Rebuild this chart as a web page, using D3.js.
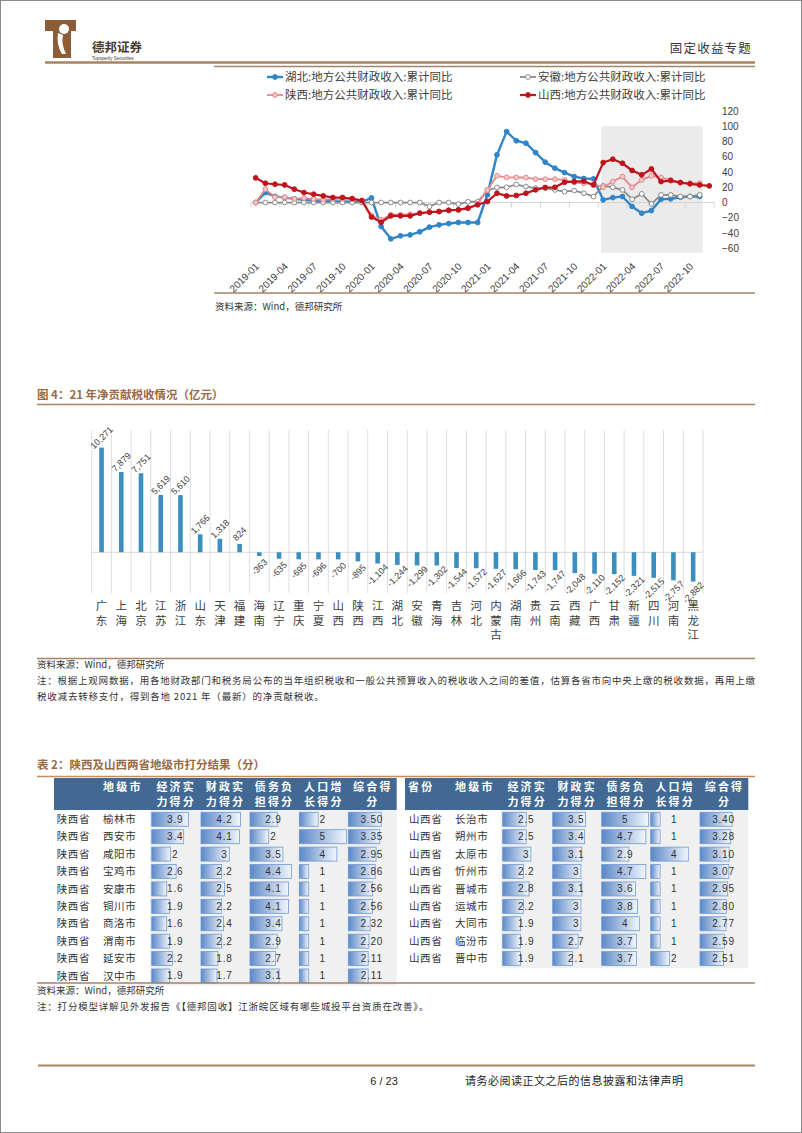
<!DOCTYPE html>
<html><head><meta charset="utf-8">
<script src="https://cdn.jsdelivr.net/npm/d3@7"></script>
<style>body{margin:0;background:#fff;} svg{display:block;}</style>
</head><body>
<svg id="page" width="802" height="1133"></svg>
<script>
// ---------------- DATA ----------------
const months = ["2019-01","2019-02","2019-03","2019-04","2019-05","2019-06","2019-07","2019-08","2019-09","2019-10","2019-11","2019-12",
"2020-01","2020-02","2020-03","2020-04","2020-05","2020-06","2020-07","2020-08","2020-09","2020-10","2020-11","2020-12",
"2021-01","2021-02","2021-03","2021-04","2021-05","2021-06","2021-07","2021-08","2021-09","2021-10","2021-11","2021-12",
"2022-01","2022-02","2022-03","2022-04","2022-05","2022-06","2022-07","2022-08","2022-09","2022-10","2022-11","2022-12"];
const monthTickLabels = ["2019-01","2019-04","2019-07","2019-10","2020-01","2020-04","2020-07","2020-10","2021-01","2021-04","2021-07","2021-10","2022-01","2022-04","2022-07","2022-10"];
const yTicksTop = [120,100,80,60,40,20,0,-20,-40,-60];
const hubei = [0,13,8,6.5,5,3.5,2.5,2,1.5,1.5,1,1,6,-31.5,-47.6,-43.7,-42.4,-38.4,-32.3,-29.3,-27.5,-26.2,-26.2,-26.2,
  10,62.5,93,81,77.8,65.5,52.9,45,39.3,34,31.5,31,3.5,6.5,7.9,-5.2,-14,-10.5,4.4,4.8,7,7.9,8,null];
const anhui = [0,0,0,0,0,0,0,0,0,0,0,0,0,0,0,0,0,0,-5,0,0,-2,1,1,
  15.7,19.7,20,23.6,21,18.8,18.8,16.6,14.4,15.7,12.2,7.9,21.8,20,16.6,4.4,11.4,-1.7,10,10,7.9,7.9,10,null];
const shaanxi = [0,17.5,7,7,4.8,5.7,4.8,3.5,4.8,4.8,4.4,2.6,-17,-22.7,-16,-16,-15.3,-14,-12.7,-11.8,-10.5,-9.6,-7,-1.7,
  16.6,35,33,32.8,32.8,30.6,30.6,30.6,29.7,26.2,25.3,24,20,27.5,34,20,29.7,35,32.8,29.7,26.2,25.3,25.3,null];
const shanxi = [32.3,25.3,24,23,17.5,13.1,10.9,8.7,6.6,6.6,5.2,2.6,-19,-25.8,-17.5,-17.5,-17.5,-14,-12.7,-11.8,-10,-9.6,-7.4,-3,
  1.3,12.2,8.7,9.2,12.2,16.6,19.7,20,26.6,27.5,28,23,52.4,56.8,51.5,42,36.3,44,27.5,28.8,26.2,24.5,23,21.8];
const seriesNames = ["湖北:地方公共财政收入:累计同比","安徽:地方公共财政收入:累计同比","陕西:地方公共财政收入:累计同比","山西:地方公共财政收入:累计同比"];
const shadeMonths = ["2022-01","2022-11"];
const shadeRange = [-66,100];

const provinces = ["广东","上海","北京","江苏","浙江","山东","天津","福建","海南","辽宁","重庆","宁夏","山西","陕西","江西","湖北","安徽","青海","吉林","河北","内蒙古","湖南","贵州","云南","西藏","广西","甘肃","新疆","四川","河南","黑龙江"];
const netTax = [10271,7879,7751,5619,5610,1766,1318,824,-363,-635,-695,-696,-700,-895,-1104,-1244,-1299,-1302,-1544,-1572,-1627,-1666,-1743,-1747,-2048,-2110,-2152,-2321,-2515,-2757,-2882];

const tableHeaders = [["经济实","力得分"],["财政实","力得分"],["债务负","担得分"],["人口增","长得分"],["综合得","分"]];
const shaanxiCities = ["榆林市","西安市","咸阳市","宝鸡市","安康市","铜川市","商洛市","渭南市","延安市","汉中市"];
const shaanxiEcon = [3.9,3.4,2,2.6,1.6,1.9,1.6,1.9,2.2,1.9];
const shaanxiFisc = [4.2,4.1,3,2.2,2.5,2.2,2.4,2.2,1.8,1.7];
const shaanxiDebt = [2.9,2,3.5,4.4,4.1,4.1,3.4,2.9,2.7,3.1];
const shaanxiPop  = [2,5,4,1,1,1,1,1,1,1];
const shaanxiTotal= [3.50,3.35,2.95,2.86,2.56,2.56,2.32,2.20,2.11,2.11];
const shanxiCities = ["长治市","朔州市","太原市","忻州市","晋城市","运城市","大同市","临汾市","晋中市"];
const shanxiEcon = [2.5,2.5,3,2.2,2.8,2.2,1.9,1.9,1.9];
const shanxiFisc = [3.5,3.4,3.1,3,3.1,3,3,2.7,2.1];
const shanxiDebt = [5,4.7,2.9,4.7,3.6,3.8,4,3.7,3.7];
const shanxiPop  = [1,1,4,1,1,1,1,1,2];
const shanxiTotal= [3.40,3.28,3.10,3.07,2.95,2.80,2.77,2.59,2.51];

// ---------------- SETUP ----------------
const svg = d3.select("#page");
const CJK = "'Noto Sans CJK SC','Noto Sans',sans-serif";
const LAT = "'Liberation Sans',Arial,sans-serif";
const BROWN = "#a98360";
const TITLE = "#9a6a44";
const fmtInt = d3.formatLocale({decimal:".",thousands:",",grouping:[3],currency:["",""],minus:"-"}).format(",");

svg.append("rect").attr("x",0.5).attr("y",0.5).attr("width",801).attr("height",1132).attr("fill","#fff").attr("stroke","#8a8a8a");

// ---------------- HEADER ----------------
const logo = svg.append("g");
logo.append("path").attr("d","M45,20 H76 V31 H71 V58 H53 V31 H45 Z").attr("fill","#8c5d36");
logo.append("circle").attr("cx",64).attr("cy",29).attr("r",5).attr("fill","#fff");
logo.append("path").attr("d","M58,33 Q56,44 62,54 L66,54 Q61,44 63,35 Z").attr("fill","#fff");
logo.append("circle").attr("cx",50).attr("cy",40).attr("r",1.6).attr("fill","#fff");
logo.append("circle").attr("cx",52).attr("cy",47).attr("r",1.3).attr("fill","#fff");
svg.append("text").attr("x",92).attr("y",52).attr("font-family",CJK).attr("font-weight",700).attr("font-size",12.5).attr("fill","#4a3b2e").text("德邦证券");
svg.append("text").attr("x",92).attr("y",60).attr("font-family",LAT).attr("font-size",4.5).attr("fill","#4a3b2e").text("Topsperity Securities");
svg.append("text").attr("x",752).attr("y",53).attr("text-anchor","end").attr("font-family",CJK).attr("font-size",12.5).attr("letter-spacing",1.2).attr("fill","#333").text("固定收益专题");
svg.append("line").attr("x1",45).attr("x2",755).attr("y1",62.5).attr("y2",62.5).attr("stroke",BROWN).attr("stroke-width",2.5);
svg.append("line").attr("x1",214).attr("x2",755).attr("y1",66.5).attr("y2",66.5).attr("stroke",BROWN).attr("stroke-width",1.5);

// ---------------- TOP LINE CHART ----------------
const x1 = d3.scalePoint().domain(months).range([255.7,709.3]);
const y1 = d3.scaleLinear().domain([-60,120]).range([248.3,111]);
const st = x1.step();

svg.append("rect").attr("x",x1(shadeMonths[0])-2).attr("width",x1(shadeMonths[1])-x1(shadeMonths[0])+5)
  .attr("y",y1(shadeRange[1])).attr("height",y1(shadeRange[0])-y1(shadeRange[1])).attr("fill","#ebebeb");

svg.append("line").attr("x1",x1(months[0])-st/2).attr("x2",x1(months[months.length-1])+st/2)
  .attr("y1",y1(0)).attr("y2",y1(0)).attr("stroke","#d4d4d4");
for (let i=0;i<=months.length;i+=3){
  const xx = x1(months[0])+(i-0.5)*st;
  svg.append("line").attr("x1",xx).attr("x2",xx).attr("y1",y1(0)).attr("y2",y1(0)+5).attr("stroke","#d4d4d4");
}
svg.append("g").selectAll("text").data(monthTickLabels).join("text")
  .attr("transform",d=>`translate(${x1(d)+4},267) rotate(-45)`)
  .attr("text-anchor","end").attr("font-family",LAT).attr("font-size",10).attr("fill","#404040").text(d=>d);

const yAx = svg.append("g").attr("transform","translate(722,0)")
  .call(d3.axisRight(y1).tickValues(yTicksTop).tickSize(0).tickPadding(0));
yAx.select(".domain").remove();
yAx.selectAll("text").attr("font-family",LAT).attr("font-size",10).attr("fill","#404040");

const series = [
  {name:seriesNames[0], vals:hubei, color:"#2e86c8", w:2.4, mFill:"#2e86c8", mStroke:"#2e86c8"},
  {name:seriesNames[1], vals:anhui, color:"#8a8a8a", w:1.8, mFill:"#ffffff", mStroke:"#8a8a8a"},
  {name:seriesNames[2], vals:shaanxi, color:"#e4878a", w:1.8, mFill:"#f6c9ca", mStroke:"#e4878a"},
  {name:seriesNames[3], vals:shanxi, color:"#c0141c", w:2.2, mFill:"#c0141c", mStroke:"#c0141c"}
];
const lineGen = d3.line().defined(d=>d.v!=null).x(d=>x1(d.m)).y(d=>y1(d.v));
series.forEach(s=>{
  const pts = s.vals.map((v,i)=>({m:months[i],v:v}));
  svg.append("path").datum(pts).attr("d",lineGen).attr("fill","none").attr("stroke",s.color).attr("stroke-width",s.w).attr("stroke-linejoin","round");
  svg.append("g").selectAll("circle").data(pts.filter(p=>p.v!=null)).join("circle")
    .attr("cx",p=>x1(p.m)).attr("cy",p=>y1(p.v)).attr("r",2.4)
    .attr("fill",s.mFill).attr("stroke",s.mStroke).attr("stroke-width",1);
});
// legend
const legPos = [[267,77],[520,77],[267,95],[520,95]];
series.forEach((s,i)=>{
  const [lx,ly] = legPos[i];
  svg.append("line").attr("x1",lx).attr("x2",lx+16).attr("y1",ly).attr("y2",ly).attr("stroke",s.color).attr("stroke-width",s.w);
  svg.append("circle").attr("cx",lx+8).attr("cy",ly).attr("r",2.4).attr("fill",s.mFill).attr("stroke",s.mStroke);
  svg.append("text").attr("x",lx+18).attr("y",ly).attr("dy","0.36em").attr("font-family",CJK).attr("font-size",11.5).attr("fill","#404040").text(s.name);
});
svg.append("line").attr("x1",214).attr("x2",755).attr("y1",293).attr("y2",293).attr("stroke",BROWN).attr("stroke-width",1.3);
svg.append("text").attr("x",215).attr("y",310).attr("font-family",CJK).attr("font-size",9.5).attr("fill","#333").text("资料来源：Wind，德邦研究所");

// ---------------- BAR CHART ----------------
svg.append("text").attr("x",37).attr("y",399).attr("font-family",CJK).attr("font-weight",700).attr("font-size",11.5).attr("fill",TITLE).text("图 4：21 年净贡献税收情况（亿元）");
svg.append("line").attr("x1",37).attr("x2",755).attr("y1",404.5).attr("y2",404.5).attr("stroke",BROWN).attr("stroke-width",1.6);

const x2 = d3.scaleBand().domain(provinces).range([91.7,703]).paddingInner(0).paddingOuter(0);
const y2 = d3.scaleLinear().domain([-4000,12000]).range([593,430]);
const bw = 4.6;
const grid = svg.append("g");
for (let i=0;i<=provinces.length;i++){
  const gx = 91.7 + i*x2.step();
  grid.append("line").attr("x1",gx).attr("x2",gx).attr("y1",430).attr("y2",593).attr("stroke","#dedede").attr("stroke-width",1);
}
svg.append("line").attr("x1",91.7).attr("x2",703).attr("y1",y2(0)).attr("y2",y2(0)).attr("stroke","#d9d9d9");
svg.append("g").selectAll("rect").data(provinces).join("rect")
  .attr("x",(d)=>x2(d)+x2.bandwidth()/2-bw/2).attr("width",bw)
  .attr("y",(d,i)=>Math.min(y2(0),y2(netTax[i]))).attr("height",(d,i)=>Math.abs(y2(netTax[i])-y2(0)))
  .attr("fill","#3a8fbf");
svg.append("g").selectAll("text").data(provinces).join("text")
  .attr("transform",(d,i)=>{
    const cx = x2(d)+x2.bandwidth()/2;
    const cy = netTax[i]>=0 ? y2(netTax[i])-10 : y2(netTax[i])+11;
    return `translate(${cx},${cy}) rotate(-45)`;})
  .attr("text-anchor","middle").attr("dy","0.35em").attr("font-family",LAT).attr("font-size",9).attr("fill","#404040")
  .text((d,i)=>fmtInt(netTax[i]));
provinces.forEach(p=>{
  const cx = x2(p)+x2.bandwidth()/2;
  [...p].forEach((ch,k)=>{
    svg.append("text").attr("x",cx).attr("y",606+k*14.5).attr("dy","0.35em").attr("text-anchor","middle")
      .attr("font-family",CJK).attr("font-size",11.5).attr("fill","#404040").text(ch);
  });
});
svg.append("line").attr("x1",37).attr("x2",755).attr("y1",658.5).attr("y2",658.5).attr("stroke",BROWN).attr("stroke-width",1.3);
svg.append("text").attr("x",37).attr("y",668).attr("font-family",CJK).attr("font-size",9.5).attr("fill","#333").text("资料来源：Wind，德邦研究所");
svg.append("text").attr("x",37).attr("y",684).attr("font-family",CJK).attr("font-size",9.5).attr("fill","#333")
  .attr("textLength",718).attr("lengthAdjust","spacing")
  .text("注：根据上观网数据，用各地财政部门和税务局公布的当年组织税收和一般公共预算收入的税收收入之间的差值，估算各省市向中央上缴的税收数据，再用上缴");
svg.append("text").attr("x",37).attr("y",700).attr("font-family",CJK).attr("font-size",9.5).attr("letter-spacing",0.8).attr("fill","#333")
  .text("税收减去转移支付，得到各地 2021 年（最新）的净贡献税收。");

// ---------------- TABLE ----------------
svg.append("text").attr("x",37).attr("y",769).attr("font-family",CJK).attr("font-weight",700).attr("font-size",11.5).attr("fill",TITLE).text("表 2：陕西及山西两省地级市打分结果（分）");
svg.append("line").attr("x1",37).attr("x2",755).attr("y1",776.5).attr("y2",776.5).attr("stroke","#c98a55").attr("stroke-width",1.3);

const defs = svg.append("defs");
const grad = defs.append("linearGradient").attr("id","dbar").attr("x1","0").attr("x2","1").attr("y1","0").attr("y2","0");
grad.append("stop").attr("offset","0%").attr("stop-color","#5b88c8");
grad.append("stop").attr("offset","100%").attr("stop-color","#f2f6fc");

const rowY0 = 819.3, rowH = 17.41, unitW = 9.4;
function drawTable(opt){
  const t = svg.append("g");
  // gray body
  t.append("rect").attr("x",opt.colX[0]-2).attr("y",810).attr("width",opt.right-(opt.colX[0]-2))
    .attr("height",opt.cities.length*rowH+rowY0-810-rowH/2+1).attr("fill","#f0f0f0");
  // header
  t.append("rect").attr("x",opt.left).attr("y",778).attr("width",opt.right-opt.left).attr("height",32).attr("fill","#416993");
  const hStyle = s=>s.attr("font-family",CJK).attr("font-weight",700).attr("font-size",11).attr("fill","#fff").attr("letter-spacing",2.2);
  if (opt.provHeader) hStyle(t.append("text").attr("x",opt.provX-1).attr("y",787).attr("dy","0.35em").text(opt.provHeader));
  hStyle(t.append("text").attr("x",opt.cityX).attr("y",787).attr("dy","0.35em").text("地级市"));
  tableHeaders.forEach((h,j)=>{
    h.forEach((line,k)=>{
      hStyle(t.append("text").attr("x",opt.colX[j]+24.5).attr("y",787+k*15).attr("dy","0.35em").attr("text-anchor","middle").text(line));
    });
  });
  opt.cities.forEach((c,r)=>{
    const cy = rowY0 + r*rowH;
    t.append("text").attr("x",opt.provX).attr("y",cy).attr("dy","0.35em").attr("font-family",CJK).attr("font-size",10.5).attr("letter-spacing",0.6).attr("fill","#333").text(opt.prov);
    t.append("text").attr("x",opt.cityX).attr("y",cy).attr("dy","0.35em").attr("font-family",CJK).attr("font-size",10.5).attr("letter-spacing",0.6).attr("fill","#333").text(c);
    opt.cols.forEach((arr,j)=>{
      const v = arr[r];
      t.append("rect").attr("x",opt.colX[j]).attr("y",cy-7).attr("width",v*unitW).attr("height",14)
        .attr("fill","url(#dbar)").attr("stroke","#6f9ad3").attr("stroke-width",0.8);
      t.append("text").attr("x",opt.colX[j]+23.5).attr("y",cy).attr("dy","0.35em").attr("text-anchor","middle")
        .attr("font-family",LAT).attr("font-size",10).attr("letter-spacing",0.8).attr("fill","#333")
        .text(j===4 ? v.toFixed(2) : String(v));
    });
  });
}
drawTable({left:54,right:396.7,provHeader:"",provX:56.7,cityX:103,colX:[151.7,201,250,299.3,348.3],
  prov:"陕西省",cities:shaanxiCities,cols:[shaanxiEcon,shaanxiFisc,shaanxiDebt,shaanxiPop,shaanxiTotal]});
drawTable({left:405,right:748.3,provHeader:"省份",provX:409,cityX:455,colX:[502.7,552.7,601.7,650.7,700],
  prov:"山西省",cities:shanxiCities,cols:[shanxiEcon,shanxiFisc,shanxiDebt,shanxiPop,shanxiTotal]});

svg.append("line").attr("x1",37).attr("x2",755).attr("y1",983).attr("y2",983).attr("stroke",BROWN).attr("stroke-width",1.3);
svg.append("text").attr("x",37).attr("y",994).attr("font-family",CJK).attr("font-size",9.5).attr("fill","#333").text("资料来源：Wind，德邦研究所");
svg.append("text").attr("x",37).attr("y",1010).attr("font-family",CJK).attr("font-size",9.5).attr("letter-spacing",0.8).attr("fill","#333")
  .text("注：打分模型详解见外发报告《【德邦固收】江浙皖区域有哪些城投平台资质在改善》。");

// ---------------- FOOTER ----------------
svg.append("line").attr("x1",38).attr("x2",755).attr("y1",1065.5).attr("y2",1065.5).attr("stroke",BROWN).attr("stroke-width",2.2);
svg.append("text").attr("x",384).attr("y",1085).attr("text-anchor","middle").attr("font-family",LAT).attr("font-size",11).attr("fill","#222").text("6 / 23");
svg.append("text").attr("x",465).attr("y",1085).attr("font-family",CJK).attr("font-size",11).attr("letter-spacing",0.5).attr("fill","#222").text("请务必阅读正文之后的信息披露和法律声明");
</script>
</body></html>
